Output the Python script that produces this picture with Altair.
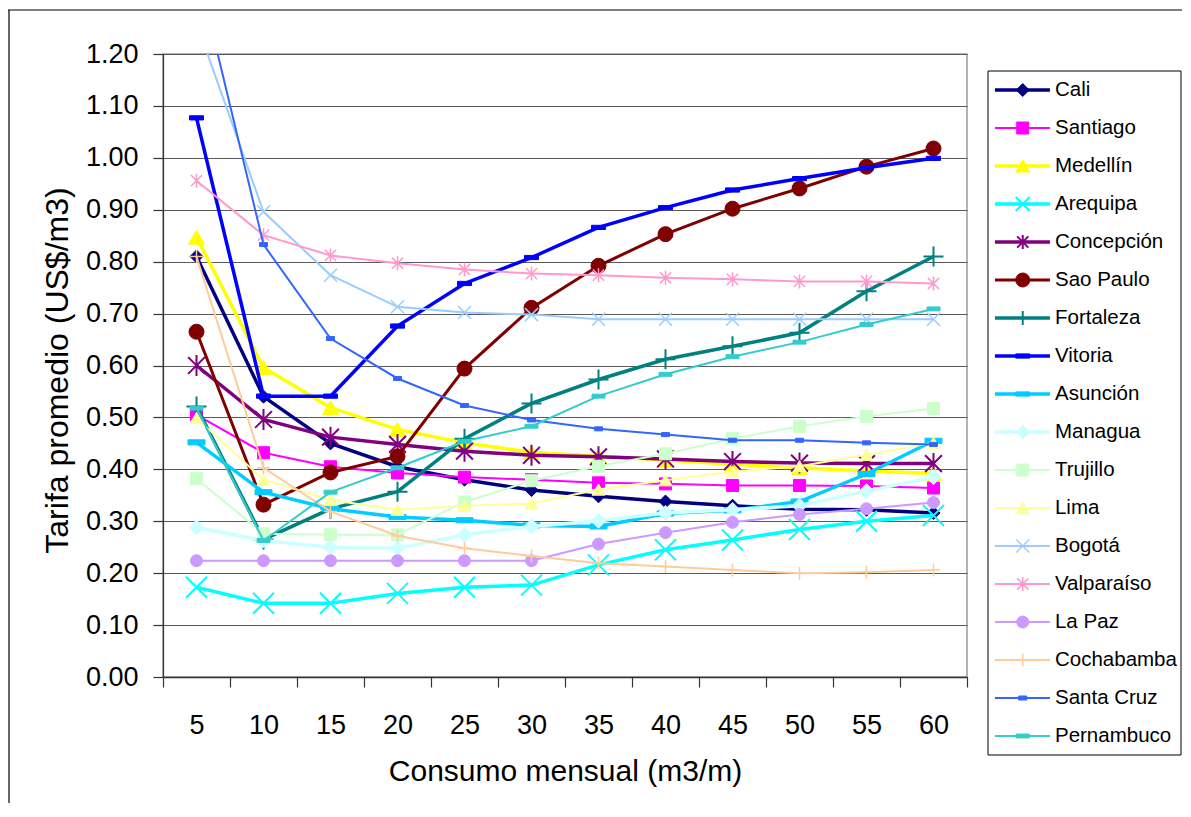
import altair as alt
import pandas as pd

# ---------------- data ----------------
consumo = [5, 10, 15, 20, 25, 30, 35, 40, 45, 50, 55, 60]

series_names = ["Cali", "Santiago", "Medellín", "Arequipa", "Concepción", "Sao Paulo",
                "Fortaleza", "Vitoria", "Asunción", "Managua", "Trujillo", "Lima",
                "Bogotá", "Valparaíso", "La Paz", "Cochabamba", "Santa Cruz", "Pernambuco"]

cali = [0.81, 0.54, 0.45, 0.405, 0.38, 0.36, 0.348, 0.338, 0.33, 0.323, 0.322, 0.316]
santiago = [0.505, 0.432, 0.405, 0.393, 0.385, 0.38, 0.374, 0.372, 0.369, 0.369, 0.368, 0.364]
medellin = [0.847, 0.596, 0.519, 0.477, 0.451, 0.433, 0.425, 0.418, 0.41, 0.403, 0.397, 0.392]
arequipa = [0.173, 0.142, 0.142, 0.161, 0.173, 0.177, 0.216, 0.245, 0.264, 0.284, 0.30, 0.311]
concepcion = [0.60, 0.496, 0.462, 0.448, 0.435, 0.427, 0.424, 0.42, 0.415, 0.412, 0.411, 0.411]
sao_paulo = [0.665, 0.332, 0.394, 0.425, 0.594, 0.711, 0.792, 0.853, 0.902, 0.941, 0.983, 1.018]
fortaleza = [0.521, 0.265, 0.324, 0.357, 0.459, 0.527, 0.573, 0.612, 0.637, 0.663, 0.743, 0.81]
vitoria = [1.077, 0.541, 0.541, 0.676, 0.758, 0.808, 0.866, 0.904, 0.938, 0.96, 0.981, 0.999]
asuncion = [0.452, 0.356, 0.324, 0.308, 0.302, 0.292, 0.29, 0.315, 0.321, 0.338, 0.391, 0.455]
managua = [0.288, 0.263, 0.25, 0.248, 0.274, 0.29, 0.301, 0.316, 0.322, 0.33, 0.358, 0.385]
trujillo = [0.382, 0.276, 0.274, 0.274, 0.337, 0.378, 0.406, 0.43, 0.459, 0.483, 0.502, 0.517]
lima = [0.499, 0.38, 0.341, 0.322, 0.33, 0.334, 0.361, 0.379, 0.396, 0.406, 0.428, 0.451]
bogota = [1.26, 0.896, 0.774, 0.713, 0.702, 0.698, 0.689, 0.689, 0.689, 0.689, 0.689, 0.689]
valparaiso = [0.956, 0.851, 0.812, 0.797, 0.785, 0.777, 0.774, 0.769, 0.766, 0.762, 0.762, 0.758]
la_paz = [0.224, 0.224, 0.224, 0.224, 0.224, 0.224, 0.256, 0.278, 0.298, 0.313, 0.324, 0.336]
cochabamba = [0.81, 0.403, 0.319, 0.272, 0.248, 0.233, 0.219, 0.213, 0.206, 0.20, 0.202, 0.206]
santa_cruz = [1.37, 0.833, 0.652, 0.575, 0.523, 0.495, 0.478, 0.467, 0.456, 0.456, 0.451, 0.448]
pernambuco = [0.518, 0.263, 0.356, 0.403, 0.454, 0.483, 0.541, 0.583, 0.617, 0.645, 0.679, 0.709]

series_values = [cali, santiago, medellin, arequipa, concepcion, sao_paulo, fortaleza,
                 vitoria, asuncion, managua, trujillo, lima, bogota, valparaiso, la_paz,
                 cochabamba, santa_cruz, pernambuco]

y_ticks = [0.0, 0.1, 0.2, 0.3, 0.4, 0.5, 0.6, 0.7, 0.8, 0.9, 1.0, 1.1, 1.2]

# ---------------- styles ----------------
X_PATH = "M-1,-1L1,1M1,-1L-1,1"
AST_PATH = "M-0.8,-0.8L0.8,0.8M0.8,-0.8L-0.8,0.8M0,-1L0,1"
PLUS_PATH = "M0,-1L0,1M-1,0L1,0"
DASH_PATH = "M-1,-0.3L1,-0.3L1,0.3L-1,0.3Z"
DASH_S_PATH = "M-1,-0.5L1,-0.5L1,0.5L-1,0.5Z"

# color, line width, marker shape, filled, marker size, marker stroke width
styles = [
    ("#000080", 3.5, "diamond", True, 169, 1),
    ("#FF00FF", 2.0, "square", True, 144, 1),
    ("#FFFF00", 3.5, "triangle-up", True, 256, 1),
    ("#00FFFF", 3.5, X_PATH, False, 441, 2),
    ("#800080", 3.5, AST_PATH, False, 441, 2),
    ("#800000", 3.0, "circle", True, 225, 1),
    ("#008080", 3.5, PLUS_PATH, False, 400, 2),
    ("#0000FF", 3.5, DASH_PATH, True, 196, 1),
    ("#00CCFF", 3.5, DASH_PATH, True, 289, 1),
    ("#CCFFFF", 3.5, "diamond", True, 225, 1),
    ("#CCFFCC", 2.0, "square", True, 144, 1),
    ("#FFFF99", 2.0, "triangle-up", True, 169, 1),
    ("#99CCFF", 2.0, X_PATH, False, 169, 1.5),
    ("#FF99CC", 2.0, AST_PATH, False, 196, 1.5),
    ("#CC99FF", 2.0, "circle", True, 144, 1),
    ("#FFCC99", 2.0, PLUS_PATH, False, 169, 1.5),
    ("#3366FF", 2.0, DASH_S_PATH, True, 64, 1),
    ("#33CCCC", 2.0, DASH_PATH, True, 169, 1),
]

FONT = "Liberation Sans"
PLOT_W, PLOT_H = 804, 623

x_enc = alt.X(
    "consumo:O",
    bandPosition=0.5,
    scale=alt.Scale(type="band", domain=consumo, paddingInner=0, paddingOuter=0),
    axis=alt.Axis(
        title="Consumo mensual (m3/m)", tickBand="extent", labelAngle=0, grid=False,
        tickSize=10, labelPadding=46, labelBaseline="alphabetic", labelFontSize=27,
        titleFontSize=30, titleBaseline="alphabetic", titleY=103,
        domainColor="#333333", domainWidth=1.5, tickColor="#333333", tickWidth=1.2,
    ),
)
y_enc = alt.Y(
    "tarifa:Q",
    scale=alt.Scale(domain=[0, 1.2], nice=False, zero=True),
    axis=alt.Axis(
        title="Tarifa promedio (US$/m3)", values=y_ticks, format=".2f", tickSize=10,
        labelPadding=15, labelFontSize=27, titleFontSize=32, titleBaseline="alphabetic",
        titleX=-96, titleY=316, grid=True, gridColor="#5a5a5a", gridWidth=1,
        domainColor="#333333", domainWidth=1.2, tickColor="#333333", tickWidth=1.2,
    ),
)

main_layers = []
for name, vals, st in zip(series_names, series_values, styles):
    color, lw, shape, filled, size, sw = st
    df = pd.DataFrame({"consumo": consumo, "tarifa": vals, "serie": name})
    base = alt.Chart(df).encode(x=x_enc, y=y_enc)
    main_layers.append(base.mark_line(color=color, strokeWidth=lw, clip=True))
    if filled:
        pts = base.mark_point(shape=shape, size=size, filled=True, fill=color, stroke=color,
                              strokeWidth=sw, opacity=1, clip=True)
    else:
        pts = base.mark_point(shape=shape, size=size, filled=False, color=color,
                              strokeWidth=sw, opacity=1, clip=True)
    main_layers.append(pts)

main = alt.layer(*main_layers)

# ---------------- legend (own scales) ----------------
lx = alt.Scale(domain=[0, 1], range=[825, 1018])
ly = alt.Scale(domain=[-0.5, 17.5], range=[17, 701])

box_df = pd.DataFrame({"caja": [1]})
legend_layers = [
    alt.Chart(box_df).mark_rect(fill="white", stroke="black", strokeWidth=1).encode(
        x=alt.XDatum(0, type="quantitative", scale=lx, axis=None),
        x2=alt.X2Datum(1),
        y=alt.YDatum(-0.5, type="quantitative", scale=ly, axis=None),
        y2=alt.Y2Datum(17.5),
    )
]
for i, (name, st) in enumerate(zip(series_names, styles)):
    color, lw, shape, filled, size, sw = st
    ldf = pd.DataFrame({"serie": [name], "orden": [i]})
    lbase = alt.Chart(ldf)
    yl = alt.Y("orden:Q", scale=ly, axis=None)
    legend_layers.append(lbase.mark_rule(color=color, strokeWidth=lw).encode(
        x=alt.XDatum(0.036, type="quantitative", scale=lx, axis=None),
        x2=alt.X2Datum(0.321), y=yl))
    lsize = min(size, 196)
    if filled:
        lp = lbase.mark_point(shape=shape, size=lsize, filled=True, fill=color, stroke=color,
                              strokeWidth=sw, opacity=1)
    else:
        lp = lbase.mark_point(shape=shape, size=lsize, filled=False, color=color,
                              strokeWidth=sw, opacity=1)
    legend_layers.append(lp.encode(x=alt.XDatum(0.18, type="quantitative", scale=lx, axis=None), y=yl))
    legend_layers.append(lbase.mark_text(align="left", baseline="middle", font=FONT,
                                         fontSize=20.5, color="black").encode(
        x=alt.XDatum(0.347, type="quantitative", scale=lx, axis=None), y=yl, text="serie:N"))

# outer frame (top and left edge of the chart area)
frame_df = pd.DataFrame({"marco": [1]})
legend_layers.append(alt.Chart(frame_df).mark_rule(color="black", strokeWidth=1.2).encode(
    x=alt.value(-155), x2=alt.value(1019), y=alt.value(-44)))
legend_layers.append(alt.Chart(frame_df).mark_rule(color="black", strokeWidth=1.2).encode(
    x=alt.value(-154), y=alt.value(-44), y2=alt.value(749)))

legend = alt.layer(*legend_layers)

chart = (
    alt.layer(main, legend)
    .resolve_scale(x="independent", y="independent")
    .properties(width=PLOT_W, height=PLOT_H,
                padding={"left": 155, "top": 46, "right": 215, "bottom": 126},
                autosize=alt.AutoSizeParams(type="none"))
    .configure_view(stroke="#9a9a9a", strokeWidth=1.5)
    .configure_axis(labelFont=FONT, titleFont=FONT, labelColor="black", titleColor="black",
                    titleFontWeight="normal")
)

chart.save("out.html", embed_options={"renderer": "svg", "actions": False})
